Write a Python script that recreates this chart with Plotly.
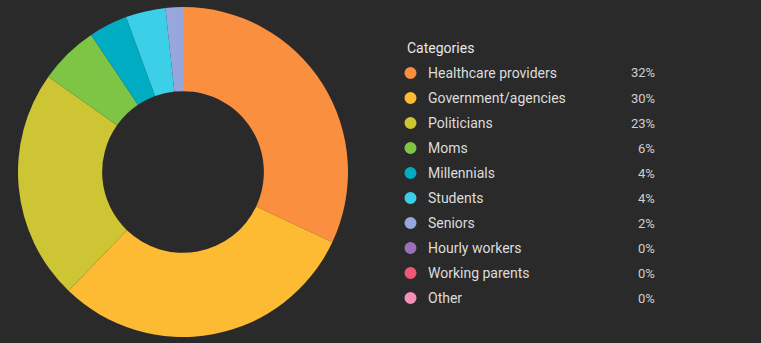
import plotly.graph_objects as go

categories = ["Healthcare providers", "Government/agencies", "Politicians", "Moms",
              "Millennials", "Students", "Seniors", "Hourly workers",
              "Working parents", "Other"]
values = [32.0, 30.2, 22.6, 5.8, 3.8, 3.9, 1.7, 0, 0, 0]
pct_labels = ["32%", "30%", "23%", "6%", "4%", "4%", "2%", "0%", "0%", "0%"]
colors = ["#FB8F40", "#FDBB33", "#CDC534", "#7EC445", "#00ACC1", "#3BD0E8",
          "#98A6DE", "#9C70B8", "#EE5878", "#F48FB6"]

W, H = 761, 343
BG = "#2A2A2A"

fig = go.Figure()
fig.add_trace(go.Pie(
    labels=categories, values=values, hole=0.49, sort=False,
    direction="clockwise", rotation=0,
    marker=dict(colors=colors, line=dict(width=0)),
    textinfo="none", hoverinfo="label+percent",
    domain=dict(x=[18 / W, 348 / W], y=[(H - 337) / H, (H - 7) / H]),
    showlegend=False,
))

def px(x):
    return x / W

def py(y):
    return 1 - y / H

annotations = [dict(x=px(405), y=py(48), xref="paper", yref="paper",
                    text="Categories", showarrow=False, xanchor="left",
                    yanchor="middle",
                    font=dict(family="Roboto", size=14, color="#E8E8E8"))]
shapes = []
for i, (cat, pct, col) in enumerate(zip(categories, pct_labels, colors)):
    y = 73 + 25 * i
    shapes.append(dict(type="circle", xref="paper", yref="paper",
                       x0=px(404.5), x1=px(416.5), y0=py(y + 6), y1=py(y - 6),
                       fillcolor=col, line=dict(width=0)))
    annotations.append(dict(x=px(426), y=py(y), xref="paper", yref="paper",
                            text=cat, showarrow=False, xanchor="left",
                            yanchor="middle",
                            font=dict(family="Roboto", size=14, color="#DCDCDC")))
    annotations.append(dict(x=px(657), y=py(y), xref="paper", yref="paper",
                            text=pct, showarrow=False, xanchor="right",
                            yanchor="middle",
                            font=dict(family="Roboto", size=13, color="#CFCFCF")))

fig.update_layout(
    width=W, height=H, margin=dict(l=0, r=0, t=0, b=0),
    paper_bgcolor=BG, plot_bgcolor=BG,
    annotations=annotations, shapes=shapes,
)
fig.write_html(
    "out.html",
    config={"displayModeBar": False},
    post_script="document.body.style.margin='0';"
                "document.body.style.background='#2A2A2A';"
                "document.body.style.overflow='hidden';",
)
